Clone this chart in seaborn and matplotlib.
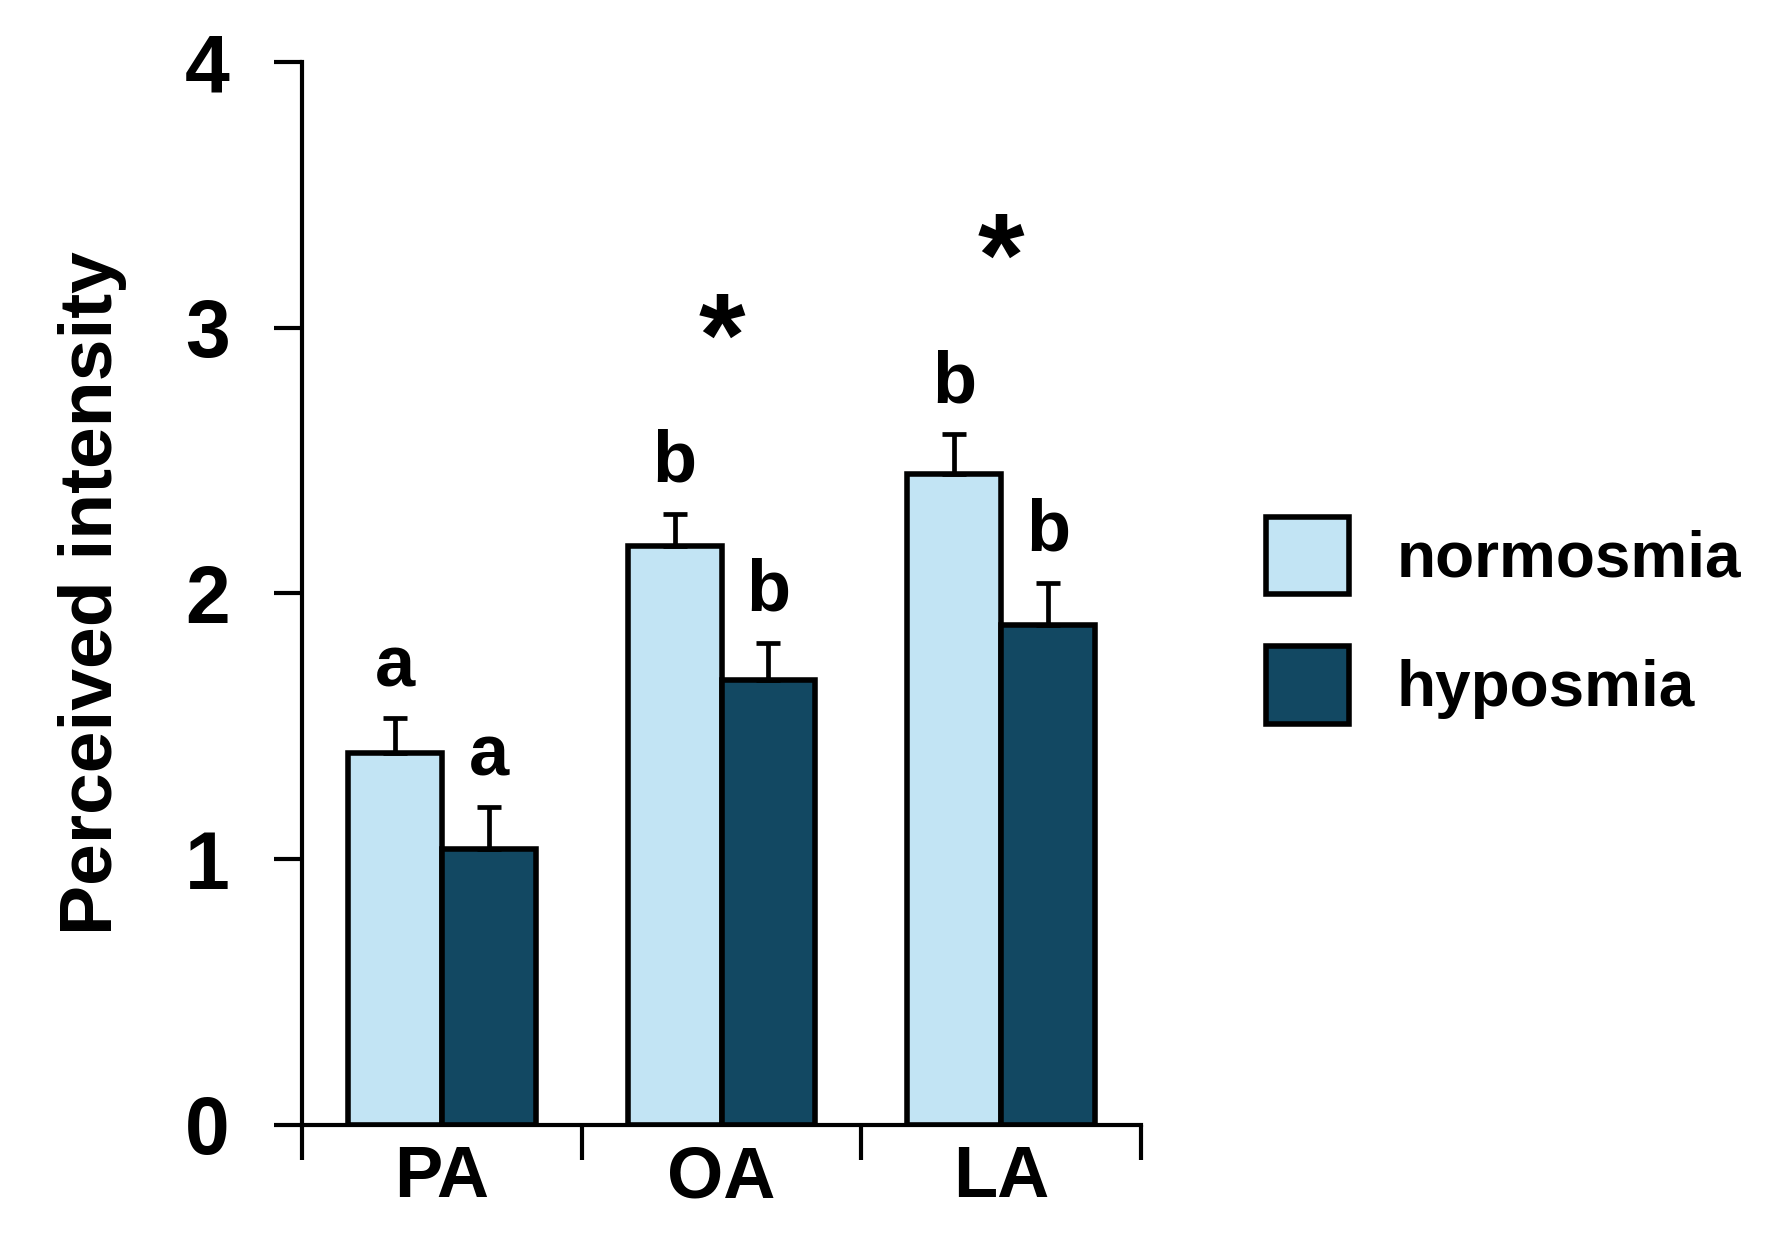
import matplotlib
matplotlib.use("Agg")
import matplotlib.pyplot as plt
import numpy as np
import pandas as pd
import seaborn as sns

# Data
CATEGORIES = ["PA", "OA", "LA"]
GROUPS = ["normosmia", "hyposmia"]
NORMOSMIA_MEAN = [1.40, 2.18, 2.45]
HYPOSMIA_MEAN = [1.04, 1.675, 1.88]
NORMOSMIA_SEM = [0.13, 0.12, 0.15]
HYPOSMIA_SEM = [0.155, 0.14, 0.16]
NORMOSMIA_LETTERS = ["a", "b", "b"]
HYPOSMIA_LETTERS = ["a", "b", "b"]
SIGNIFICANCE = ["", "*", "*"]
Y_TICKS = [0, 1, 2, 3, 4]

LIGHT_BLUE = "#c2e4f4"
DARK_BLUE = "#124862"
FONT = ["Liberation Sans", "DejaVu Sans"]


def main():
    sns.set_style("ticks")
    plt.rcParams["font.family"] = FONT
    plt.rcParams["font.weight"] = "bold"
    plt.rcParams["text.color"] = "black"
    plt.rcParams["axes.labelcolor"] = "black"
    plt.rcParams["xtick.color"] = "black"
    plt.rcParams["ytick.color"] = "black"

    df = pd.DataFrame({
        "odor": CATEGORIES * 2,
        "group": [GROUPS[0]] * 3 + [GROUPS[1]] * 3,
        "value": NORMOSMIA_MEAN + HYPOSMIA_MEAN,
    })

    fig = plt.figure(figsize=(17.8, 12.54), dpi=100)
    ax = fig.add_axes([0.1697, 0.1029, 0.4713, 0.8477])

    sns.barplot(
        data=df, x="odor", y="value", hue="group", order=CATEGORIES,
        hue_order=GROUPS, palette=[LIGHT_BLUE, DARK_BLUE], width=0.67,
        errorbar=None, edgecolor="black", linewidth=4, saturation=1,
        ax=ax,
    )

    sems = [NORMOSMIA_SEM, HYPOSMIA_SEM]
    letters = [NORMOSMIA_LETTERS, HYPOSMIA_LETTERS]
    err_tops = np.zeros((2, 3))
    bar_containers = list(ax.containers)
    for gi, container in enumerate(bar_containers):
        for ci, bar in enumerate(container.patches):
            xc = bar.get_x() + bar.get_width() / 2
            h = bar.get_height()
            ax.errorbar(xc, h, yerr=[[0], [sems[gi][ci]]], fmt="none",
                        ecolor="black", elinewidth=3.4, capsize=8.5,
                        capthick=3.4, zorder=1)
            top = h + sems[gi][ci]
            err_tops[gi, ci] = top
            ax.text(xc, top + 0.12, letters[gi][ci], ha="center",
                    va="baseline", fontsize=52, fontweight="bold")

    # significance stars above each odor pair
    for ci, mark in enumerate(SIGNIFICANCE):
        if mark:
            ax.text(ci, err_tops[:, ci].max() + 0.52, mark, ha="center",
                    va="baseline", fontsize=86, fontweight="bold")

    ax.set_xlim(-0.5, 2.5)
    ax.set_ylim(0, 4)
    ax.set_yticks(Y_TICKS)
    ax.set_yticklabels([str(t) for t in Y_TICKS], fontsize=58,
                       fontweight="bold")
    ax.set_xticks([-0.5, 0.5, 1.5, 2.5])
    ax.set_xticklabels([])
    ax.set_xticks(range(len(CATEGORIES)), minor=True)
    ax.set_xticklabels(CATEGORIES, minor=True, fontsize=52, fontweight="bold")
    ax.tick_params(axis="x", which="minor", length=0, pad=14)
    ax.tick_params(axis="x", which="major", length=25, width=3,
                   direction="out", color="black")
    ax.tick_params(axis="y", length=20, width=3, direction="out",
                   color="black", pad=32)

    sns.despine(ax=ax)
    for side in ["left", "bottom"]:
        ax.spines[side].set_linewidth(3)
        ax.spines[side].set_color("black")

    ax.set_xlabel("")
    ax.set_ylabel("Perceived intensity", fontsize=54, fontweight="bold",
                  labelpad=42)

    handles, labels = ax.get_legend_handles_labels()
    leg = ax.legend(handles, labels, loc="center left",
                    bbox_to_anchor=(1.08, 0.475), frameon=False,
                    handlelength=1.3, handleheight=1.5, handletextpad=0.75,
                    labelspacing=0.8, prop={"weight": "bold", "size": 46})
    for patch in leg.get_patches():
        patch.set_linewidth(4)

    fig.savefig("out.png", dpi=100, facecolor="white")


if __name__ == "__main__":
    main()
